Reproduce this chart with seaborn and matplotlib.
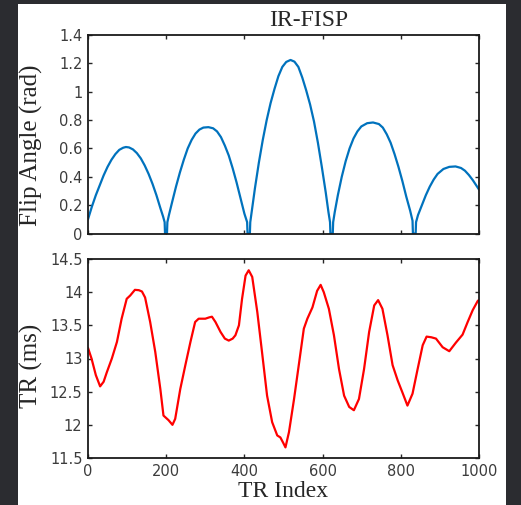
import matplotlib
matplotlib.use("Agg")
import matplotlib.pyplot as plt
import seaborn as sns
from matplotlib.patches import Rectangle
from matplotlib.ticker import FuncFormatter, MultipleLocator

# -----------------------------
# Data
# -----------------------------
fa_idx = [0, 10, 20, 30, 40, 50, 60, 70, 80, 90, 97, 105, 115, 125, 135, 145, 155, 165, 175, 185, 192, 196, 197, 202,
          203, 207, 215, 225, 235, 245, 255, 265, 275, 285, 295, 308, 320, 330, 340, 350, 360, 370, 380, 390, 400, 407, 408, 414,
          415, 419, 427, 437, 447, 457, 467, 477, 487, 497, 507, 518, 528, 538, 548, 558, 568, 578, 588, 598, 608, 615, 619, 620, 626,
          627, 631, 639, 649, 659, 669, 679, 689, 699, 714, 729, 744, 754, 764, 774, 784, 794, 804, 814, 824, 830, 831, 838,
          839, 844, 854, 864, 874, 884, 894, 909, 924, 940, 954, 964, 974, 984, 1000]
fa_val = [0.10, 0.19, 0.27, 0.34, 0.41, 0.47, 0.52, 0.56, 0.59, 0.605, 0.61, 0.607, 0.593, 0.567, 0.53, 0.48, 0.42, 0.35, 0.27, 0.18, 0.12, 0.08, 0.0, 0.0,
          0.08, 0.13, 0.22, 0.33, 0.43, 0.52, 0.60, 0.66, 0.705, 0.733, 0.747, 0.75, 0.742, 0.72, 0.68, 0.62, 0.55, 0.46, 0.36, 0.25, 0.14, 0.08, 0.0, 0.0,
          0.08, 0.16, 0.32, 0.50, 0.66, 0.80, 0.92, 1.02, 1.11, 1.175, 1.21, 1.224, 1.212, 1.175, 1.10, 1.01, 0.91, 0.79, 0.64, 0.47, 0.29, 0.15, 0.08, 0.0, 0.0,
          0.08, 0.15, 0.27, 0.40, 0.51, 0.60, 0.67, 0.72, 0.755, 0.778, 0.783, 0.772, 0.747, 0.70, 0.64, 0.56, 0.47, 0.37, 0.26, 0.16, 0.09, 0.0, 0.0,
          0.08, 0.13, 0.20, 0.27, 0.33, 0.38, 0.42, 0.455, 0.47, 0.473, 0.462, 0.443, 0.413, 0.377, 0.31]

tr_idx = [0, 9, 20, 31, 40, 48, 61, 74, 86, 99, 108, 115, 120, 130, 138, 146, 159, 172, 185, 193, 206, 216, 223, 236, 249, 262, 274, 283,
          300, 310, 317, 326, 339, 350, 360, 370, 377, 386, 394, 403, 411, 420, 433, 445, 458, 471, 484, 492, 500, 505, 514, 527, 540, 552, 561,
          574, 586, 595, 603, 616, 629, 642, 655, 668, 680, 693, 706, 719, 732, 742, 753, 766, 779, 792, 804, 817, 830, 843,
          856, 866, 878, 890, 907, 924, 941, 958, 971, 984, 997, 1000]
tr_val = [13.16, 13.0, 12.75, 12.58, 12.65, 12.79, 13.0, 13.25, 13.6, 13.9, 13.95, 14.0, 14.035, 14.03, 14.01, 13.92, 13.55, 13.1, 12.54, 12.14, 12.07, 12.0, 12.09, 12.54, 12.9, 13.25, 13.55, 13.6,
          13.6, 13.62, 13.63, 13.55, 13.4, 13.3, 13.27, 13.3, 13.35, 13.5, 13.9, 14.25, 14.33, 14.23, 13.7, 13.1, 12.44, 12.04, 11.84, 11.81, 11.72, 11.66, 11.89, 12.39, 12.94, 13.45, 13.6,
          13.77, 14.02, 14.11, 14.0, 13.75, 13.35, 12.84, 12.44, 12.27, 12.22, 12.39, 12.84, 13.4, 13.8, 13.88, 13.75, 13.35, 12.9, 12.67, 12.49, 12.29, 12.47, 12.84,
          13.2, 13.33, 13.32, 13.30, 13.17, 13.11, 13.24, 13.36, 13.55, 13.73, 13.87, 13.88]

x_ticks = [0, 200, 400, 600, 800, 1000]

# -----------------------------
# Style
# -----------------------------
sns.set_style("ticks")
plt.rcParams['font.family'] = ['DejaVu Sans']
serif = 'Liberation Serif'
tick_color = '#3c3c3c'

fig = plt.figure(figsize=(5.21, 5.05), dpi=100, facecolor='#2b2c30')
fig.patches.append(Rectangle((18 / 521, 0), 488 / 521, 501 / 505, transform=fig.transFigure,
                             facecolor='white', edgecolor='none', zorder=-1))

ax1 = fig.add_axes([88 / 521, 1 - 233.5 / 505, 391 / 521, 198.5 / 505])
ax2 = fig.add_axes([88 / 521, 1 - 458 / 505, 391 / 521, 199 / 505])

sns.lineplot(x=fa_idx, y=fa_val, ax=ax1, color='#0072BD', linewidth=1.6, estimator=None, sort=False)
sns.lineplot(x=tr_idx, y=tr_val, ax=ax2, color='#FF0000', linewidth=1.6, estimator=None, sort=False)

fmt = FuncFormatter(lambda v, p: '%g' % round(v, 2))

ax1.set_xlim(0, 1000)
ax1.set_ylim(0, 1.4)
ax1.yaxis.set_major_locator(MultipleLocator(0.2))
ax1.set_xticks(x_ticks)
ax1.set_xticklabels([])
ax1.yaxis.set_major_formatter(fmt)
ax1.set_ylabel("Flip Angle (rad)", family=serif, fontsize=18)
ax1.yaxis.set_label_coords(-0.115, 0.445)

ax2.set_xlim(0, 1000)
ax2.set_ylim(11.5, 14.5)
ax2.yaxis.set_major_locator(MultipleLocator(0.5))
ax2.set_xticks(x_ticks)
ax2.yaxis.set_major_formatter(fmt)
ax2.set_ylabel("TR (ms)", family=serif, fontsize=18)
ax2.yaxis.set_label_coords(-0.115, 0.465)
ax2.set_xlabel("TR Index", family=serif, fontsize=17)
ax2.xaxis.set_label_coords(0.5, -0.115)

for ax in (ax1, ax2):
    ax.tick_params(direction='in', length=3, width=1, top=True, right=True,
                   labelsize=10.5, labelcolor=tick_color, pad=4)
    for s in ax.spines.values():
        s.set_visible(True)
        s.set_linewidth(1.3)
        s.set_color('#1a1a1a')

fig.text(309 / 521, 1 - 21 / 505, "IR-FISP", ha='center', va='center', family=serif, fontsize=17)

fig.savefig("out.png", dpi=100, facecolor=fig.get_facecolor())
